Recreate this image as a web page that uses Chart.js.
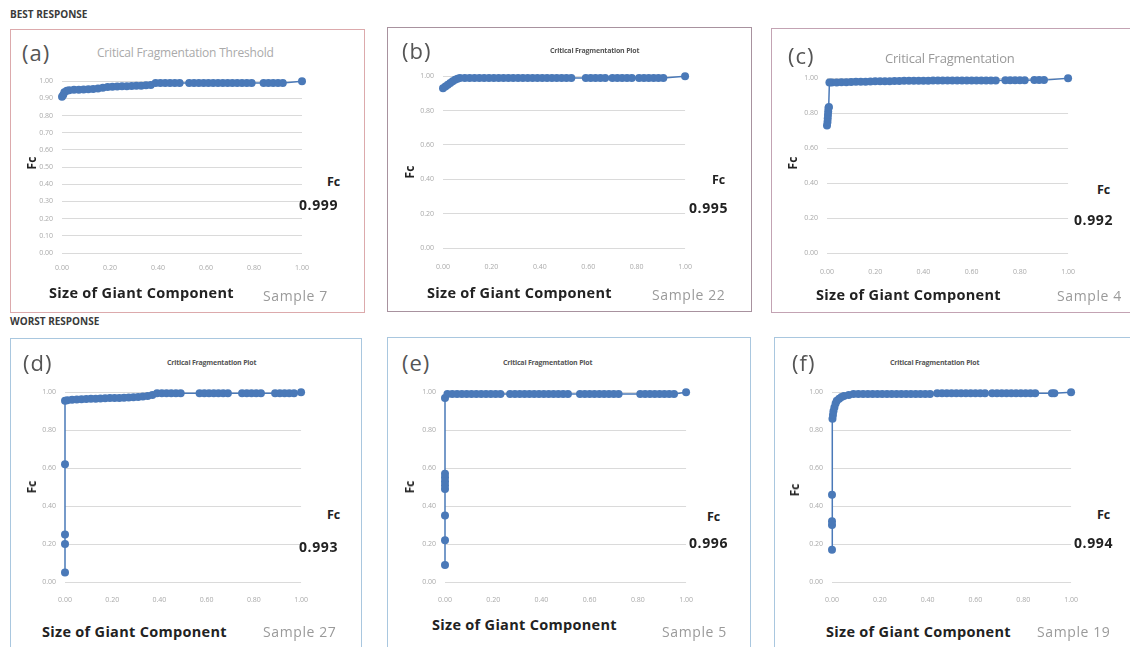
<!DOCTYPE html>
<html>
<head>
<meta charset="utf-8">
<script src="https://cdn.jsdelivr.net/npm/chart.js@4.4.1/dist/chart.umd.min.js"></script>
<style>
    body { margin: 0; width: 1130px; height: 647px; overflow: hidden; background: #fff; position: relative; font-family: "Open Sans", sans-serif; }
    .box { position: absolute; border: 1.5px solid; box-sizing: border-box; }
    .t { position: absolute; white-space: nowrap; transform: translateY(-50%); line-height: 1; }
    .rot { position: absolute; white-space: nowrap; transform: translate(-50%, -50%) rotate(-90deg); font-weight: 700; font-size: 12px; color: #222; line-height: 1; }
    canvas { position: absolute; }
</style>
</head>
<body>
<script>
// Size of giant component (x) and Fc (y), one pair of arrays per sample

// (a) Sample 7
const sizeA = [0.00, 0.005, 0.01, 0.02, 0.03, 0.05, 0.07, 0.09, 0.11, 0.13, 0.15, 0.17, 0.19, 0.21, 0.23, 0.25, 0.27, 0.29, 0.31, 0.33, 0.35, 0.37,
    0.39, 0.41, 0.43, 0.45, 0.47, 0.49,
    0.53, 0.55, 0.57, 0.59, 0.61, 0.63, 0.65, 0.67,
    0.69, 0.71, 0.73, 0.75, 0.77, 0.79,
    0.84, 0.86, 0.88, 0.90, 0.92,
    1.00];
const fcA = [0.91, 0.92, 0.935, 0.945, 0.948, 0.95, 0.95, 0.952, 0.953, 0.955, 0.958, 0.962, 0.966, 0.968, 0.969, 0.97, 0.971, 0.972, 0.973, 0.974, 0.976, 0.978,
    0.99, 0.99, 0.99, 0.99, 0.99, 0.99,
    0.99, 0.99, 0.99, 0.99, 0.99, 0.99, 0.99, 0.99,
    0.99, 0.99, 0.99, 0.99, 0.99, 0.99,
    0.99, 0.99, 0.99, 0.99, 0.99,
    1.00];

// (b) Sample 22
const sizeB = [0.00, 0.01, 0.02, 0.03, 0.04, 0.05, 0.06, 0.07,
    0.09, 0.11, 0.13, 0.15, 0.17, 0.19, 0.21, 0.23, 0.25, 0.27, 0.29, 0.31, 0.33, 0.35, 0.37, 0.39, 0.41, 0.43, 0.45, 0.47, 0.49, 0.51, 0.53,
    0.59, 0.61, 0.63, 0.65, 0.67,
    0.70, 0.72, 0.74, 0.76, 0.78,
    0.81, 0.83, 0.85, 0.87, 0.89, 0.91,
    1.00];
const fcB = [0.93, 0.94, 0.95, 0.96, 0.97, 0.98, 0.985, 0.99,
    0.99, 0.99, 0.99, 0.99, 0.99, 0.99, 0.99, 0.99, 0.99, 0.99, 0.99, 0.99, 0.99, 0.99, 0.99, 0.99, 0.99, 0.99, 0.99, 0.99, 0.99, 0.99, 0.99,
    0.99, 0.99, 0.99, 0.99, 0.99,
    0.99, 0.99, 0.99, 0.99, 0.99,
    0.99, 0.99, 0.99, 0.99, 0.99, 0.99,
    1.00];

// (c) Sample 4
const sizeC = [0.000, 0.002, 0.003, 0.004, 0.005, 0.006, 0.008, 0.010,
    0.02, 0.04, 0.06, 0.08, 0.10, 0.12, 0.14, 0.16, 0.18, 0.20, 0.22, 0.24, 0.26, 0.28, 0.30, 0.32, 0.34, 0.36, 0.38, 0.40, 0.42,
    0.44, 0.46, 0.48, 0.50, 0.52, 0.54, 0.56, 0.58, 0.60, 0.62, 0.64, 0.66, 0.68, 0.70,
    0.74, 0.76, 0.78, 0.80, 0.82,
    0.86, 0.88, 0.90,
    1.00];
const fcC = [0.73, 0.75, 0.77, 0.79, 0.81, 0.83, 0.835, 0.975,
    0.975, 0.976, 0.977, 0.977, 0.978, 0.979, 0.98, 0.98, 0.981, 0.982, 0.982, 0.983, 0.983, 0.984, 0.984, 0.985, 0.985, 0.985, 0.986, 0.986, 0.986,
    0.987, 0.987, 0.987, 0.987, 0.987, 0.987, 0.987, 0.987, 0.987, 0.987, 0.987, 0.987, 0.987, 0.987,
    0.988, 0.988, 0.988, 0.988, 0.988,
    0.989, 0.989, 0.989,
    1.00];

// (d) Sample 27
const sizeD = [0.00, 0.00, 0.00, 0.00, 0.00,
    0.01, 0.03, 0.05, 0.07, 0.09, 0.11, 0.13, 0.15, 0.17, 0.19, 0.21, 0.23, 0.25, 0.27, 0.29, 0.31, 0.33, 0.35, 0.37,
    0.39, 0.41, 0.43, 0.45, 0.47, 0.49,
    0.57, 0.59, 0.61, 0.63, 0.65, 0.67, 0.69,
    0.75, 0.77, 0.79, 0.81, 0.83,
    0.89, 0.91, 0.93, 0.95, 0.97,
    1.00];
const fcD = [0.05, 0.20, 0.25, 0.62, 0.955,
    0.958, 0.96, 0.962, 0.963, 0.964, 0.965, 0.966, 0.967, 0.968, 0.969, 0.97, 0.97, 0.971, 0.972, 0.973, 0.975, 0.977, 0.98, 0.985,
    0.995, 0.995, 0.995, 0.995, 0.995, 0.995,
    0.995, 0.995, 0.995, 0.995, 0.995, 0.995, 0.995,
    0.995, 0.995, 0.995, 0.995, 0.995,
    0.995, 0.995, 0.995, 0.995, 0.995,
    1.00];

// (e) Sample 5
const sizeE = [0.00, 0.00, 0.00, 0.00, 0.00, 0.00, 0.00, 0.00, 0.00,
    0.01, 0.03, 0.05, 0.07, 0.09, 0.11, 0.13, 0.15, 0.17, 0.19, 0.21, 0.23,
    0.27, 0.29, 0.31, 0.33, 0.35, 0.37, 0.39, 0.41, 0.43, 0.45, 0.47, 0.49, 0.51,
    0.56, 0.58, 0.60, 0.62, 0.64, 0.66, 0.68, 0.70, 0.72,
    0.81, 0.83, 0.85, 0.87, 0.89, 0.91, 0.93, 0.95,
    1.00];
const fcE = [0.09, 0.22, 0.35, 0.49, 0.51, 0.53, 0.55, 0.57, 0.97,
    0.99, 0.99, 0.99, 0.99, 0.99, 0.99, 0.99, 0.99, 0.99, 0.99, 0.99, 0.99,
    0.99, 0.99, 0.99, 0.99, 0.99, 0.99, 0.99, 0.99, 0.99, 0.99, 0.99, 0.99, 0.99,
    0.99, 0.99, 0.99, 0.99, 0.99, 0.99, 0.99, 0.99, 0.99,
    0.99, 0.99, 0.99, 0.99, 0.99, 0.99, 0.99, 0.99,
    1.00];

// (f) Sample 19
const sizeF = [0.00, 0.00, 0.00, 0.00,
    0.002, 0.004, 0.006, 0.010, 0.015, 0.02, 0.03, 0.04, 0.05, 0.07, 0.09,
    0.11, 0.13, 0.15, 0.17, 0.19, 0.21, 0.23, 0.25, 0.27, 0.29, 0.31, 0.33, 0.35, 0.37, 0.39, 0.41,
    0.44, 0.46, 0.48, 0.50, 0.52, 0.54, 0.56, 0.58, 0.60, 0.62, 0.64,
    0.67, 0.69, 0.71, 0.73, 0.75, 0.77, 0.79, 0.81, 0.83, 0.85,
    0.92, 0.93, 1.00];
const fcF = [0.17, 0.30, 0.32, 0.46,
    0.86, 0.88, 0.90, 0.92, 0.94, 0.955, 0.965, 0.975, 0.98, 0.985, 0.99,
    0.99, 0.99, 0.99, 0.99, 0.99, 0.99, 0.99, 0.99, 0.99, 0.99, 0.99, 0.99, 0.99, 0.99, 0.99, 0.99,
    0.995, 0.995, 0.995, 0.995, 0.995, 0.995, 0.995, 0.995, 0.995, 0.995, 0.995,
    0.995, 0.995, 0.995, 0.995, 0.995, 0.995, 0.995, 0.995, 0.995, 0.995,
    0.995, 0.995, 1.00];

const panelLetters = ['(a)', '(b)', '(c)', '(d)', '(e)', '(f)'];
const plotTitles = ['Critical Fragmentation Threshold', 'Critical Fragmentation Plot', 'Critical Fragmentation',
    'Critical Fragmentation Plot', 'Critical Fragmentation Plot', 'Critical Fragmentation Plot'];
const fcValues = ['0.999', '0.995', '0.992', '0.993', '0.996', '0.994'];
const sampleNames = ['Sample 7', 'Sample 22', 'Sample 4', 'Sample 27', 'Sample 5', 'Sample 19'];

const BLUE = '#4a79b8';

// layout: plot area [left, top, right, bottom], panel frame, label spots
const panels = [
    { xs: sizeA, ys: fcA, plot: [62, 78, 302, 253], yStep: 0.1, xPad: 11, box: [10, 29, 365, 313], border: '#dcaaac',
      letter: [22, 52], title: [97, 53, 12, 400, '#aaa'], fcRot: [32, 163], fc: [327, 182], val: [299, 205], size: [49, 293], sample: [263, 296] },
    { xs: sizeB, ys: fcB, plot: [443, 73, 687, 248], yStep: 0.2, xPad: 15, box: [387, 27, 752, 312], border: '#a8929f',
      letter: [402, 50], title: [550, 50, 7, 700, '#555'], fcRot: [410, 172], fc: [712, 180], val: [689, 208], size: [427, 293], sample: [652, 295] },
    { xs: sizeC, ys: fcC, plot: [827, 75, 1070, 253], yStep: 0.2, xPad: 15, box: [771, 28, 1150, 313], border: '#c3a3b3',
      letter: [788, 55], title: [885, 58, 13, 400, '#999'], fcRot: [793, 163], fc: [1097, 190], val: [1074, 220], size: [816, 295], sample: [1057, 296] },
    { xs: sizeD, ys: fcD, plot: [65, 389, 302, 582], yStep: 0.2, xPad: 14, box: [10, 338, 362, 670], border: '#a9c7df',
      letter: [23, 362], title: [167, 362, 7, 700, '#555'], fcRot: [32, 487], fc: [327, 515], val: [299, 547], size: [42, 632], sample: [263, 632] },
    { xs: sizeE, ys: fcE, plot: [445, 389, 687, 582], yStep: 0.2, xPad: 14, box: [387, 337, 751, 670], border: '#a9c7df',
      letter: [402, 362], title: [503, 362, 7, 700, '#555'], fcRot: [410, 487], fc: [707, 517], val: [689, 543], size: [432, 625], sample: [662, 632] },
    { xs: sizeF, ys: fcF, plot: [832, 389, 1072, 582], yStep: 0.2, xPad: 14, box: [774, 337, 1150, 670], border: '#a9c7df',
      letter: [792, 362], title: [890, 362, 7, 700, '#555'], fcRot: [795, 490], fc: [1097, 515], val: [1074, 543], size: [826, 632], sample: [1037, 632] },
];

function addText(txt, x, y, css) {
    const d = document.createElement('div');
    d.className = 't';
    d.textContent = txt;
    d.style.left = x + 'px';
    d.style.top = y + 'px';
    Object.assign(d.style, css);
    document.body.appendChild(d);
}

function drawPanel(p, i) {
    const box = document.createElement('div');
    box.className = 'box';
    box.style.left = p.box[0] + 'px';
    box.style.top = p.box[1] + 'px';
    box.style.width = (p.box[2] - p.box[0]) + 'px';
    box.style.height = (p.box[3] - p.box[1]) + 'px';
    box.style.borderColor = p.border;
    document.body.appendChild(box);

    const padL = 40, padT = 10, padR = 20, padB = 30;
    const c = document.createElement('canvas');
    c.width = p.plot[2] - p.plot[0] + padL + padR;
    c.height = p.plot[3] - p.plot[1] + padT + padB;
    c.style.left = (p.plot[0] - padL) + 'px';
    c.style.top = (p.plot[1] - padT) + 'px';
    document.body.appendChild(c);

    new Chart(c, {
        type: 'line',
        data: {
            datasets: [{
                data: p.xs.map((x, k) => ({ x: x, y: p.ys[k] })),
                borderColor: BLUE,
                backgroundColor: BLUE,
                borderWidth: 1.5,
                pointRadius: 4,
                pointBorderWidth: 0,
                pointHoverRadius: 4,
                tension: 0,
                clip: false,
            }],
        },
        options: {
            responsive: false,
            animation: false,
            events: [],
            layout: { padding: { top: padT, right: padR, left: 0, bottom: 0 } },
            plugins: { legend: { display: false }, tooltip: { enabled: false } },
            scales: {
                x: {
                    type: 'linear', min: 0, max: 1,
                    afterFit: s => { s.height = padB; },
                    grid: { display: false, drawTicks: false },
                    border: { display: false },
                    ticks: { stepSize: 0.2, padding: p.xPad, maxRotation: 0, autoSkip: false,
                             font: { size: 7, family: 'Open Sans' }, color: '#aaa', callback: v => v.toFixed(2) },
                },
                y: {
                    type: 'linear', min: 0, max: 1,
                    afterFit: s => { s.width = padL; },
                    grid: { color: '#dadada', drawTicks: false },
                    border: { display: false },
                    ticks: { stepSize: p.yStep, padding: 9, autoSkip: false,
                             font: { size: 7, family: 'Open Sans' }, color: '#aaa', callback: v => v.toFixed(2) },
                },
            },
        },
    });

    addText(panelLetters[i], p.letter[0], p.letter[1], { fontSize: '22px', color: '#555', letterSpacing: '1px' });
    addText(plotTitles[i], p.title[0], p.title[1], { fontSize: p.title[2] + 'px', fontWeight: p.title[3], color: p.title[4], letterSpacing: '-0.2px' });

    const r = document.createElement('div');
    r.className = 'rot';
    r.textContent = 'Fc';
    r.style.left = p.fcRot[0] + 'px';
    r.style.top = p.fcRot[1] + 'px';
    document.body.appendChild(r);

    addText('Fc', p.fc[0], p.fc[1], { fontSize: '12.5px', fontWeight: 700, color: '#222' });
    addText(fcValues[i], p.val[0], p.val[1], { fontSize: '14px', fontWeight: 700, color: '#222', letterSpacing: '0.6px' });
    addText('Size of Giant Component', p.size[0], p.size[1], { fontSize: '14.5px', fontWeight: 700, color: '#222', letterSpacing: '0.3px' });
    addText(sampleNames[i], p.sample[0], p.sample[1], { fontSize: '14px', color: '#9a9a9a', letterSpacing: '0.6px' });
}

addText('BEST RESPONSE', 10, 14, { fontSize: '10px', fontWeight: 700, color: '#3a3a3a' });
addText('WORST RESPONSE', 10, 321, { fontSize: '10px', fontWeight: 700, color: '#3a3a3a' });
panels.forEach(drawPanel);
</script>
</body>
</html>
